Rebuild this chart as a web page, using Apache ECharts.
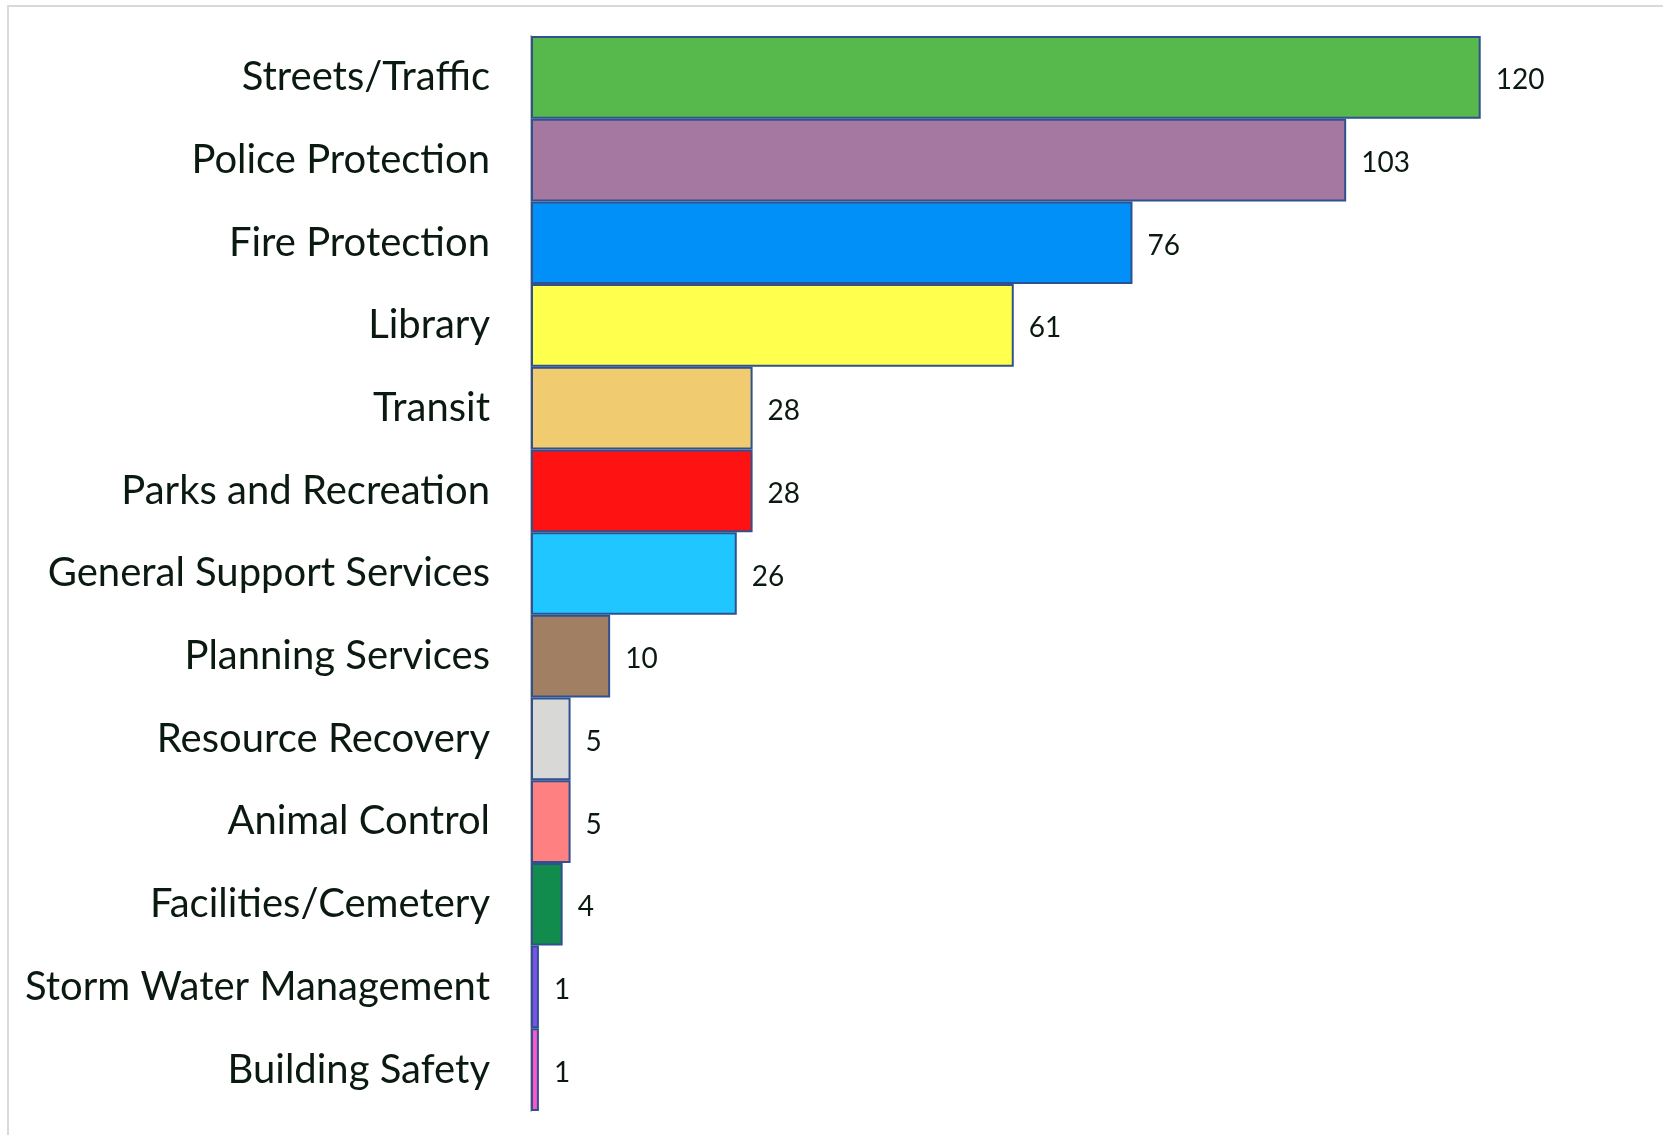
<!DOCTYPE html>
<html>
<head>
<meta charset="utf-8">
<script src="https://cdn.jsdelivr.net/npm/echarts@6/dist/echarts.min.js"></script>
<style>html,body{margin:0;padding:0;background:#fff}#c{width:1663px;height:1135px}</style>
</head>
<body>
<div id="c"></div>
<script>
const categories = ["Streets/Traffic","Police Protection","Fire Protection","Library","Transit","Parks and Recreation","General Support Services","Planning Services","Resource Recovery","Animal Control","Facilities/Cemetery","Storm Water Management","Building Safety"];
const values = [120,103,76,61,28,28,26,10,5,5,4,1,1];
const colors = ["#57B94B","#A578A2","#0090F8","#FFFF4D","#F0CB70","#FF1212","#1FC6FF","#A07F62","#D8D8D6","#FF8080","#128C4D","#7B52F0","#FF55CC"];

const chart = echarts.init(document.getElementById('c'), null, {renderer:'canvas'});
chart.setOption({
  animation:false,
  backgroundColor:'#fff',
  graphic:[{type:'rect',shape:{x:8,y:6,width:1700,height:1200},style:{fill:'none',stroke:'#D9D9D9',lineWidth:2},z:-10}],
  grid:{left:531,right:24,top:36,bottom:24},
  xAxis:{type:'value',min:0,max:140,show:false},
  yAxis:{type:'category',data:categories,inverse:true,
    axisLine:{show:true,lineStyle:{color:'#BFBFBF',width:2}},
    axisTick:{show:false},
    axisLabel:{margin:41,fontFamily:'Lato',fontSize:40,color:'#0B1A10'}},
  series:[{type:'bar',barCategoryGap:'0%',
    data:values.map((v,i)=>({value:v,itemStyle:{color:colors[i]}})),
    itemStyle:{borderColor:'#2F528F',borderWidth:2},
    label:{show:true,position:'right',distance:15,offset:[0,3],fontFamily:'Lato',fontSize:28,color:'#0B1A10'}}]
});
</script>
</body>
</html>
